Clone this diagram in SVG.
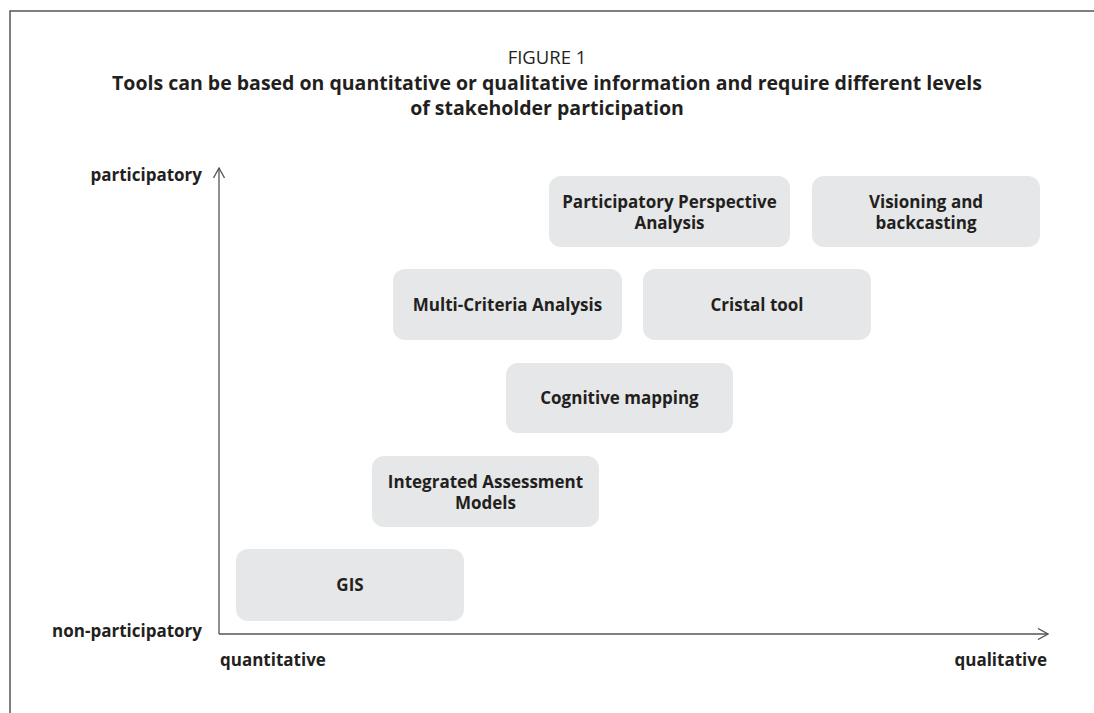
<svg xmlns="http://www.w3.org/2000/svg" width="1094" height="713" viewBox="0 0 1094 713">
<style>
text{font-family:"Open Sans","Noto Sans","Liberation Sans",sans-serif;fill:#231f20}
.t{font-size:18.5px}
.h{font-size:19.5px;font-weight:bold}
.n{font-size:17px;font-weight:bold;text-anchor:middle}
.ax{font-size:17px;font-weight:bold}
.box{fill:#e6e7e8}
.axis{stroke:#555;stroke-width:1.3;fill:none}
</style>
<defs>
<marker id="ah" viewBox="0 0 12 12" refX="11" refY="6" markerWidth="12" markerHeight="12" markerUnits="userSpaceOnUse" orient="auto">
<path d="M1,0.5 L11,6 L1,11.5" fill="none" stroke="#555" stroke-width="1.3"/>
</marker>
</defs>
<rect width="1094" height="713" fill="#fff"/>
<path d="M10,713 V11 H1094" fill="none" stroke="#555" stroke-width="1.5"/>
<g id="title">
<text class="t" x="547" y="64" text-anchor="middle">FIGURE 1</text>
<text class="h" x="547" y="90" text-anchor="middle">Tools can be based on quantitative or qualitative information and require different levels</text>
<text class="h" x="547" y="115" text-anchor="middle">of stakeholder participation</text>
</g>
<g id="connectors">
<line class="axis" x1="219" y1="634" x2="219" y2="168" marker-end="url(#ah)"/>
<line class="axis" x1="219" y1="634" x2="1048" y2="634" marker-end="url(#ah)"/>
</g>
<g id="axis-labels">
<text class="ax" x="202" y="181" text-anchor="end">participatory</text>
<text class="ax" x="202" y="637" text-anchor="end">non-participatory</text>
<text class="ax" x="220" y="666">quantitative</text>
<text class="ax" x="1047" y="666" text-anchor="end">qualitative</text>
</g>
<g id="ppa"><rect class="box" x="549" y="176" width="241" height="71" rx="12"/><text class="n" x="669.5" y="208">Participatory Perspective</text><text class="n" x="669.5" y="229">Analysis</text></g>
<g id="visioning"><rect class="box" x="812" y="176" width="228" height="71" rx="12"/><text class="n" x="926" y="208">Visioning and</text><text class="n" x="926" y="229">backcasting</text></g>
<g id="mca"><rect class="box" x="393" y="269" width="229" height="71" rx="12"/><text class="n" x="507.5" y="311">Multi-Criteria Analysis</text></g>
<g id="cristal"><rect class="box" x="643" y="269" width="228" height="71" rx="12"/><text class="n" x="757" y="311">Cristal tool</text></g>
<g id="cognitive"><rect class="box" x="506" y="363" width="227" height="70" rx="12"/><text class="n" x="619.5" y="404">Cognitive mapping</text></g>
<g id="iam"><rect class="box" x="372" y="456" width="227" height="71" rx="12"/><text class="n" x="485.5" y="488">Integrated Assessment</text><text class="n" x="485.5" y="509">Models</text></g>
<g id="gis"><rect class="box" x="236" y="549" width="228" height="72" rx="12"/><text class="n" x="350" y="591">GIS</text></g>
</svg>
